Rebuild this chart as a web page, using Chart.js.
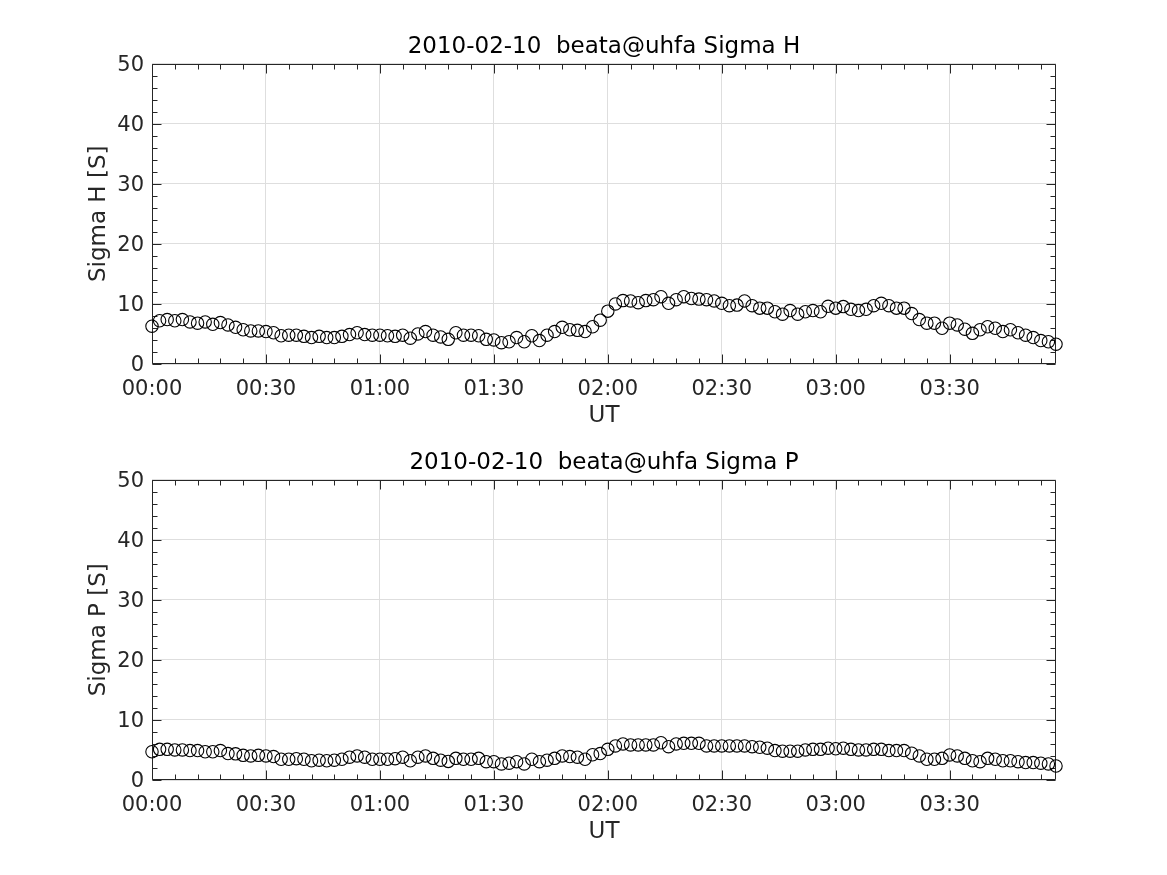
<!DOCTYPE html>
<html>
<head>
<meta charset="utf-8">
<script src="https://cdn.jsdelivr.net/npm/chart.js@4.4.1/dist/chart.umd.min.js"></script>
<style>
  body { margin: 0; background: #fff; }
  .plot { position: absolute; left: 0; }
</style>
</head>
<body>
<canvas id="chartH" class="plot" width="1167" height="438" style="top:0px"></canvas>
<canvas id="chartP" class="plot" width="1167" height="438" style="top:416px"></canvas>
<script>
// 2010-02-10, beata@uhfa, one sample every 2 minutes from 00:00 UT
const dateLabel = '2010-02-10';
const siteLabel = 'beata@uhfa';
const sampleStep = 2; // minutes

const sigmaH = [
  6.3, 7.2, 7.4, 7.2, 7.4, 7.0, 6.8, 7.0, 6.6, 6.9,
  6.5, 6.1, 5.7, 5.5, 5.5, 5.4, 5.2, 4.7, 4.8, 4.8,
  4.6, 4.4, 4.6, 4.4, 4.4, 4.6, 4.9, 5.2, 4.9, 4.8,
  4.8, 4.7, 4.6, 4.8, 4.3, 5.0, 5.4, 4.8, 4.5, 4.1,
  5.2, 4.8, 4.8, 4.7, 4.1, 4.0, 3.55, 3.7, 4.4, 3.7,
  4.7, 3.9, 4.8, 5.4, 6.1, 5.7, 5.6, 5.4, 6.2, 7.3,
  8.8, 10.0, 10.55, 10.5, 10.2, 10.55, 10.7, 11.2, 10.1, 10.7,
  11.2, 10.9, 10.8, 10.7, 10.5, 10.1, 9.7, 9.8, 10.5, 9.7,
  9.3, 9.3, 8.7, 8.3, 8.9, 8.3, 8.7, 8.9, 8.7, 9.6,
  9.3, 9.55, 9.1, 8.9, 9.1, 9.7, 10.1, 9.7, 9.3, 9.3,
  8.4, 7.4, 6.8, 6.8, 5.95, 6.8, 6.5, 5.8, 5.1, 5.7,
  6.2, 5.95, 5.4, 5.7, 5.2, 4.8, 4.4, 3.9, 3.7, 3.3
];

const sigmaP = [
  4.7, 5.1, 5.1, 5.0, 5.0, 4.9, 4.9, 4.7, 4.7, 4.9,
  4.4, 4.35, 4.1, 4.0, 4.1, 4.0, 3.9, 3.45, 3.45, 3.55,
  3.45, 3.2, 3.3, 3.2, 3.3, 3.45, 3.8, 4.0, 3.8, 3.45,
  3.45, 3.45, 3.55, 3.8, 3.2, 3.8, 4.0, 3.6, 3.3, 3.1,
  3.6, 3.45, 3.45, 3.6, 3.05, 3.05, 2.67, 2.8, 3.05, 2.67,
  3.45, 3.05, 3.3, 3.6, 4.0, 3.9, 3.8, 3.45, 4.2, 4.4,
  5.1, 5.67, 6.0, 5.83, 5.83, 5.83, 5.83, 6.2, 5.55, 6.0,
  6.1, 6.1, 6.1, 5.67, 5.67, 5.67, 5.67, 5.67, 5.67, 5.55,
  5.45, 5.3, 4.9, 4.8, 4.8, 4.8, 5.0, 5.1, 5.1, 5.3,
  5.2, 5.3, 5.1, 5.0, 5.0, 5.1, 5.1, 4.9, 4.9, 4.9,
  4.45, 4.0, 3.45, 3.45, 3.6, 4.17, 4.0, 3.6, 3.2, 3.05,
  3.6, 3.45, 3.2, 3.2, 3.05, 2.9, 2.9, 2.8, 2.67, 2.33
];

const minutes = sigmaH.map((_, i) => i * sampleStep);
const yTicks = [0, 10, 20, 30, 40, 50];

const ink = '#262626';
const font = 'DejaVu Sans';

function hhmm(m) {
  const h = Math.floor(m / 60), mm = Math.round(m % 60);
  return String(h).padStart(2, '0') + ':' + String(mm).padStart(2, '0');
}

// matlab style box: ticks inside on all four sides, minor ticks too
const boxTicks = {
  id: 'boxTicks',
  beforeDatasetsDraw(chart) {
    const {ctx, chartArea: a, scales: {x, y}} = chart;
    const L = Math.round(a.left) + 0.5, R = Math.round(a.right) - 0.5;
    const T = Math.round(a.top) + 0.5, B = Math.round(a.bottom) - 0.5;
    ctx.save();
    ctx.strokeStyle = ink;
    ctx.lineWidth = 1;
    ctx.beginPath();
    ctx.rect(L, T, R - L, B - T);
    for (let m = x.min; m <= x.max; m += 6) {
      const len = m % 30 === 0 ? 9 : 5;
      const px = Math.round(x.getPixelForValue(m)) + 0.5;
      ctx.moveTo(px, B); ctx.lineTo(px, B - len);
      ctx.moveTo(px, T); ctx.lineTo(px, T + len);
    }
    for (let v = y.min; v <= y.max; v += 2) {
      const len = v % 10 === 0 ? 9 : 5;
      const py = Math.round(y.getPixelForValue(v)) + 0.5;
      ctx.moveTo(L, py); ctx.lineTo(L + len, py);
      ctx.moveTo(R, py); ctx.lineTo(R - len, py);
    }
    ctx.stroke();
    ctx.restore();
  }
};

function makeChart(id, values, name) {
  return new Chart(document.getElementById(id), {
    type: 'scatter',
    data: {
      datasets: [{
        data: values.map((v, i) => ({x: minutes[i], y: v})),
        showLine: false,
        pointStyle: 'circle',
        pointRadius: 6.2,
        pointBorderWidth: 1.1,
        pointBorderColor: '#000',
        pointBackgroundColor: 'rgba(0,0,0,0)',
        clip: false
      }]
    },
    options: {
      responsive: false,
      animation: false,
      layout: {padding: {left: 0, right: 111, top: 0, bottom: 0}},
      plugins: {
        legend: {display: false},
        tooltip: {enabled: false},
        title: {
          display: true,
          fullSize: false,
          text: dateLabel + '  ' + siteLabel + ' ' + name,
          color: '#000',
          font: {family: font, size: 23, weight: 'normal'},
          padding: {top: 33, bottom: 3}
        }
      },
      scales: {
        x: {
          type: 'linear',
          min: 0,
          max: minutes[minutes.length - 1],
          afterFit: s => { s.height = 74; },
          afterBuildTicks: s => {
            s.ticks = [];
            for (let m = 0; m <= s.max; m += 30) s.ticks.push({value: m});
          },
          ticks: {
            callback: v => hhmm(v),
            color: ink,
            font: {family: font, size: 21},
            padding: 13,
            maxRotation: 0,
            autoSkip: false
          },
          grid: {color: '#dedede', drawTicks: false},
          border: {display: false},
          title: {
            display: true,
            text: 'UT',
            color: ink,
            font: {family: font, size: 23},
            padding: {top: 0, bottom: 8}
          }
        },
        y: {
          min: 0,
          max: 50,
          afterFit: s => { s.width = 152; },
          afterBuildTicks: s => { s.ticks = yTicks.map(v => ({value: v})); },
          ticks: {
            color: ink,
            font: {family: font, size: 21},
            padding: 8,
            labelOffset: 2
          },
          grid: {color: '#dedede', drawTicks: false},
          border: {display: false},
          title: {
            display: true,
            text: name + ' [S]',
            color: ink,
            font: {family: font, size: 23},
            padding: {top: 85, bottom: 0}
          }
        }
      }
    },
    plugins: [boxTicks]
  });
}

makeChart('chartH', sigmaH, 'Sigma H');
makeChart('chartP', sigmaP, 'Sigma P');
</script>
</body>
</html>
